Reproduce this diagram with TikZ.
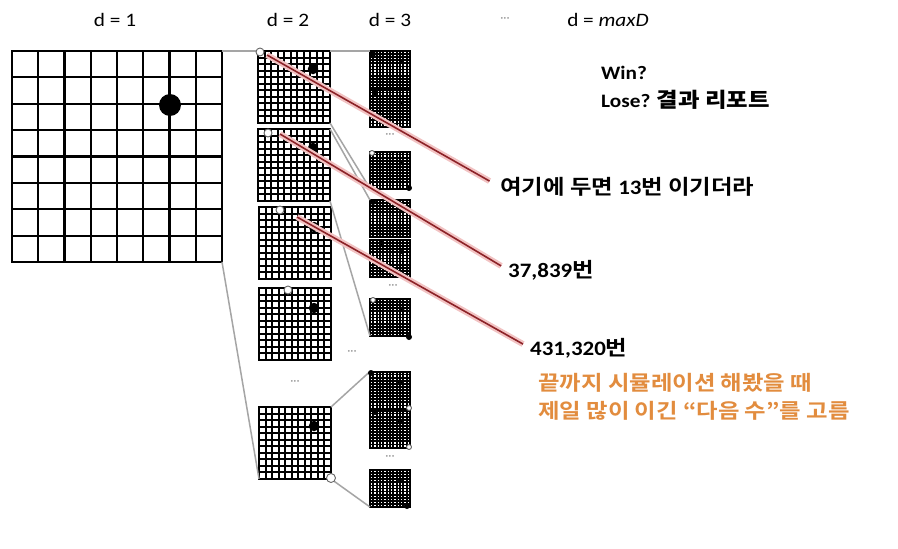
\documentclass[tikz,border=0pt]{standalone}
\usepackage{fontspec}
\setmainfont{Carlito}[FakeStretch=1.12]
\newfontfamily\krfont{Noto Sans CJK KR Bold}[FakeStretch=1.14]
\usetikzlibrary{calc}
\definecolor{redcore}{RGB}{140,35,40}
\definecolor{redglow}{RGB}{242,195,195}
\definecolor{connc}{RGB}{165,165,165}
\definecolor{orangetxt}{RGB}{226,140,62}
\tikzset{
  cellgrid/.style 2 args={path picture={
    \pgfmathtruncatemacro\bdN{#1-1}
    \foreach \k in {1,...,\bdN}{
      \draw[line width=#2] ($(path picture bounding box.north west)!\k/#1!(path picture bounding box.north east)$) -- ($(path picture bounding box.south west)!\k/#1!(path picture bounding box.south east)$);
      \draw[line width=#2] ($(path picture bounding box.north west)!\k/#1!(path picture bounding box.south west)$) -- ($(path picture bounding box.north east)!\k/#1!(path picture bounding box.south east)$);
    }}},
  bigboard/.style={draw, fill=white, line width=2.2pt, inner sep=0pt, outer sep=0pt, minimum width=210pt, minimum height=211pt, cellgrid={8}{2.2pt}},
  midboard/.style={draw, fill=white, line width=2.2pt, inner sep=0pt, outer sep=0pt, minimum size=72pt, cellgrid={11}{2pt}},
  smallboard/.style={draw, fill=white, line width=2pt, inner sep=0pt, outer sep=0pt, minimum width=40pt, minimum height=37pt, cellgrid={12}{1.7pt}},
  bstone/.style={circle, fill=black, inner sep=0pt, minimum size=#1},
  wstone/.style={circle, fill=white, draw=black!60, line width=0.9pt, inner sep=0pt, minimum size=#1},
  conn/.style={draw=connc, line width=1.5pt},
  redl/.style={draw=redcore, line width=1.6pt, preaction={draw=redglow, line width=6pt}},
  hdr/.style={font=\fontsize{19}{22}\selectfont, inner sep=0pt},
  lbl/.style={font=\fontsize{20.5}{24}\selectfont, inner sep=0pt, anchor=west},
  dotsl/.style={font=\fontsize{11}{12}\selectfont, text=black!45, inner sep=0pt},
}
\begin{document}
\begin{tikzpicture}[x=1pt,y=-1pt]
\useasboundingbox[fill=white] (0,0) rectangle (898,549);

% headers
\node[hdr] (h1) at (115,20) {d = 1};
\node[hdr] (h2) at (288,20) {d = 2};
\node[hdr] (h3) at (390,20) {d = 3};
\node[dotsl] (hd) at (505,20) {···};
\node[hdr] (h4) at (608,20) {d = \textit{maxD}};

% boards
\node[bigboard] (big) at (117,156.5) {};
\node[midboard] (b1) at (294,87) {};
\node[midboard] (b2) at (294,165) {};
\node[midboard] (b3) at (295,243) {};
\node[midboard] (b4) at (295,324) {};
\node[midboard] (b5) at (295,443) {};

\node[smallboard] (s1) at (390,69.5) {};
\node[smallboard] (s2) at (390,108) {};
\node[smallboard] (s3) at (390,170) {};
\node[smallboard] (s4) at (390,218.5) {};
\node[smallboard] (s5) at (390,258.5) {};
\node[smallboard] (s6) at (390,317.5) {};
\node[smallboard] (s7) at (390,390) {};
\node[smallboard] (s8) at (390,429) {};
\node[smallboard] (s9) at (390,488.5) {};

% connectors
\draw[conn] (big.north east) -- (b1.north west);
\draw[conn] (big.south east) -- (b5.south west);
\draw[conn] (b1.north east) -- (s1.north west);
\draw[conn] (b1.south east) -- (s3.south west);
\draw[conn] (b2.north east) -- (s4.north west);
\draw[conn] (b2.south east) -- (s6.south west);
\draw[conn] (b5.north east) -- (s7.north west);
\draw[conn] (b5.south east) -- (s9.south west);

% dots
\node[dotsl] (dd1) at (390,136) {···};
\node[dotsl] (dd2) at (393,287) {···};
\node[dotsl] (dd3) at (352,353) {···};
\node[dotsl] (dd4) at (295,383) {···};
\node[dotsl] (dd5) at (390,458) {···};

% stones
\node[bstone=22pt] (st0) at (170,105) {};
\node[wstone=8pt] (w1) at (260,52) {};
\node[bstone=10.5pt] (k1) at (313,69) {};
\node[wstone=8pt] (w2) at (268,133) {};
\node[bstone=10.5pt] (k2) at (313,148) {};
\node[wstone=8pt] (w3) at (280,210) {};
\node[bstone=10.5pt] (k3) at (314,227) {};
\node[wstone=8pt] (w4) at (288,290) {};
\node[bstone=10.5pt] (k4) at (314,308) {};
\node[bstone=10.5pt] (k5) at (314,426) {};
\node[wstone=9pt] (w5) at (331,478) {};

% small board stones
\node[bstone=6pt] (m1a) at (373,54) {};
\node[bstone=4pt] (m1b) at (401,62) {};
\node[bstone=5pt] (m2a) at (375,93) {};
\node[bstone=4pt] (m2b) at (401,103) {};
\node[wstone=5pt] (m3a) at (372,153) {};
\node[bstone=4pt] (m3b) at (401,163) {};
\node[bstone=6pt] (m3c) at (409,188) {};
\node[bstone=6pt] (m4a) at (373,202) {};
\node[bstone=4pt] (m4b) at (401,210) {};
\node[bstone=5pt] (m5a) at (381,243) {};
\node[bstone=4pt] (m5b) at (401,252) {};
\node[wstone=5pt] (m6a) at (373,300) {};
\node[bstone=5pt] (m6b) at (402,309) {};
\node[bstone=6pt] (m6c) at (409,337) {};
\node[bstone=6pt] (m7a) at (371,373) {};
\node[bstone=5pt] (m7b) at (400,382) {};
\node[wstone=5pt] (m7c) at (409,408) {};
\node[bstone=4pt] (m8a) at (375,413) {};
\node[bstone=5pt] (m8b) at (400,421) {};
\node[wstone=5pt] (m8c) at (409,447) {};
\node[bstone=4pt] (m9a) at (400,481) {};
\node[bstone=6pt] (m9b) at (407,506) {};

% right texts
\node[lbl, font=\fontsize{19}{22}\selectfont\bfseries] (win) at (601,73) {Win?};
\node[lbl, font=\fontsize{19}{22}\selectfont\bfseries] (lose) at (601,100) {Lose? {\krfont\fontsize{20.5}{24}\selectfont 결과 리포트}};

\node[lbl] (t1) at (500,187) {{\krfont 여기에 두면 }{\bfseries 13}{\krfont 번 이기더라}};
\node[lbl] (t2) at (508,270) {{\bfseries 37,839}{\krfont 번}};
\node[lbl] (t3) at (530,348) {{\bfseries 431,320}{\krfont 번}};
\node[lbl, text=orangetxt] (t4) at (538,383) {\krfont 끝까지 시뮬레이션 해봤을 때};
\node[lbl, text=orangetxt] (t5) at (538,411) {\krfont 제일 많이 이긴 “다음 수”를 고름};

% red lines
\coordinate (r1) at (267,55);
\coordinate (r2) at (280,134);
\coordinate (r3) at (297,217);
\draw[redl, shorten >=12pt] (r1) -- (t1.west);
\draw[redl, shorten >=8pt] (r2) -- (t2.west);
\draw[redl, shorten >=8pt] (r3) -- (t3.west);
\end{tikzpicture}
\end{document}
